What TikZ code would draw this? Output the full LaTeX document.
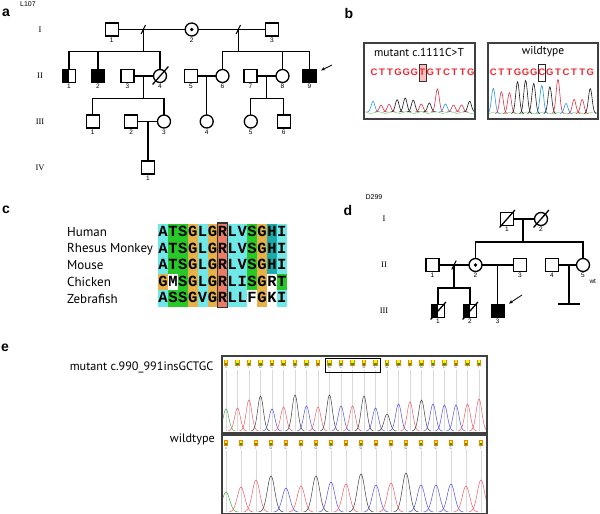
\documentclass[tikz,border=0pt]{standalone}
\usepackage{fontspec}
\setmainfont{Liberation Sans}
\newfontfamily\labelfont{PT Sans}
\newfontfamily\seqfont{Liberation Mono}
\newfontfamily\romanfont{Liberation Serif}
\usetikzlibrary{positioning,
                arrows.meta,        % arrow tips
                calc}

\definecolor{alcyan}{RGB}{112,232,232}
\definecolor{algreen}{RGB}{40,200,40}
\definecolor{alorange}{RGB}{232,176,72}
\definecolor{alsalmon}{RGB}{232,124,104}
\definecolor{alteal}{RGB}{30,170,170}
\definecolor{seqred}{RGB}{240,40,50}
\definecolor{bC}{RGB}{40,150,220}
\definecolor{bT}{RGB}{215,50,70}
\definecolor{bG}{RGB}{25,25,25}
\definecolor{eA}{RGB}{70,170,70}
\definecolor{eT}{RGB}{240,90,100}
\definecolor{eG}{RGB}{60,60,60}
\definecolor{eC}{RGB}{80,80,230}

% one trace peak: x, baseline, height, width, colour
\newcommand{\trpeak}[5]{%
  \draw[#5] plot[domain=-2.4:2.4, samples=25, smooth] ({#1+#4*\x},{#2-#3*exp(-(\x)*(\x))});}

\begin{document}
\begin{tikzpicture}[x=1pt, y=-1pt,
    ped/.style={line width=1.3pt, line cap=rect},
    male/.style={draw, rectangle, minimum size=13pt, inner sep=0pt, line width=1.3pt},
    female/.style={draw, circle, minimum size=13pt, inner sep=0pt, line width=1.3pt},
    halfaff/.style={path picture={\fill[black] (path picture bounding box.north west) rectangle (path picture bounding box.south);}},
    num/.style={font=\fontsize{6.5}{7}\selectfont, inner sep=0.8pt},
    gen/.style={font=\romanfont\fontsize{8.5}{9}\selectfont},
    panel/.style={font=\bfseries\fontsize{14}{14}\selectfont},
    idtag/.style={font=\fontsize{7}{7}\selectfont},
    brk/.style={line width=1pt},
    proband/.style={line width=0.8pt, -{Stealth[length=4pt, width=3.5pt]}, shorten >=5pt},
    species/.style={font=\labelfont\fontsize{13}{13}\selectfont, inner sep=0pt},
    tracelbl/.style={font=\labelfont\fontsize{12.2}{12.2}\selectfont, inner sep=0pt},
    alnchar/.style={font=\seqfont\bfseries\fontsize{15.5}{15.5}\selectfont, inner sep=0pt, text height=8.8pt, text depth=0pt},
    seqchar/.style={font=\bfseries\fontsize{9.5}{9.5}\selectfont, text=seqred, inner sep=0pt},
    basechar/.style={font=\fontsize{3.5}{3.5}\selectfont, inner sep=0pt},
    chromframe/.style={draw=black!75, line width=1.3pt}]
\useasboundingbox (0,0) rectangle (600,514);

% ---------------- a
\node[panel] (lblA) at (6,13) {a};
\node[idtag] (tagA) at (28,4) {L107};
\foreach \g/\y in {I/29.5, II/76, III/121.5, IV/167.5}
  \node[gen] (genA\g) at (40,\y) {\g};

\node[male, label={[num]below:1}] (aI1) at (111.7,29.5) {};
\node[female, label={[num]below:2}] (aI2) at (191.7,29.5) {};
\node[male, label={[num]below:3}] (aI3) at (272,29.5) {};

\node[male, halfaff, label={[num]below:1}] (aII1) at (69,76) {};
\node[male, fill=black, label={[num]below:2}] (aII2) at (98,76) {};
\node[male, label={[num]below:3}] (aII3) at (127.5,76) {};
\node[female, label={[num]below:4}] (aII4) at (160,76) {};
\node[male, label={[num]below:5}] (aII5) at (191,76) {};
\node[female, label={[num]below:6}] (aII6) at (222.5,76) {};
\node[male, label={[num]below:7}] (aII7) at (250.5,76) {};
\node[female, label={[num]below:8}] (aII8) at (282.5,76) {};
\node[male, fill=black, label={[num]below:9}] (aII9) at (309.5,76) {};

\node[male, label={[num]below:1}] (aIII1) at (92.7,121.5) {};
\node[male, label={[num]below:2}] (aIII2) at (131.3,121.5) {};
\node[female, label={[num]below:3}] (aIII3) at (164,121.5) {};
\node[female, label={[num]below:4}] (aIII4) at (206.7,121.5) {};
\node[female, label={[num]below:5}] (aIII5) at (250.8,121.5) {};
\node[male, label={[num]below:6}] (aIII6) at (283.7,121.5) {};

\node[male, label={[num]below:1}] (aIV1) at (148,167.5) {};

\fill (aI2) circle (1.8);
\draw[ped] ($(aII4)+(-7,8)$) -- ($(aII4)+(8,-9)$);

\coordinate (dropA1) at (143.3,51.7);
\coordinate (dropA2) at (238.3,51.7);
\coordinate (dropA3) at (143.3,98.3);
\coordinate (dropA4) at (266.6,98.3);

\draw[ped] (aI1) -- (aI2) -- (aI3);
\draw[ped] (dropA1 |- aI1) -- (dropA1);
\draw[ped] (dropA2 |- aI1) -- (dropA2);
\draw[brk] (dropA1 |- aI1) ++(-2.2,4.5) -- ++(4.4,-9);
\draw[brk] (dropA2 |- aI1) ++(-2.2,4.5) -- ++(4.4,-9);
\draw[ped] (aII1) |- (dropA1) -| (aII4);
\draw[ped] (aII2) -- (aII2 |- dropA1);
\draw[ped] (aII6) |- (dropA2) -| (aII9);
\draw[ped] (aII8) -- (aII8 |- dropA2);

\draw[ped] (aII3) -- (aII4);
\draw[ped] (dropA3 |- aII3) -- (dropA3);
\draw[ped] (aIII1) |- (dropA3) -| (aIII3);
\draw[ped] (aII5) -- (aII6);
\draw[ped] (aIII4 |- aII5) -- (aIII4);
\draw[ped] (aII7) -- (aII8);
\draw[ped] (dropA4 |- aII7) -- (dropA4);
\draw[ped] (aIII5) |- (dropA4) -| (aIII6);

\draw[ped] (aIII2) -- (aIII3);
\draw[ped] (aIV1 |- aIII2) -- (aIV1);

\coordinate (prbA) at (332,65);
\draw[proband] (prbA) -- (aII9);

% ---------------- b
\node[panel] (lblB) at (349,13) {b};
\draw[chromframe] (364,43) rectangle (475,119);
\draw[chromframe] (488,43) rectangle (598,119);
\node[font=\labelfont\fontsize{11.5}{11.5}\selectfont] (mutB) at (419,52) {mutant c.1111C>T};
\node[font=\labelfont\fontsize{11.5}{11.5}\selectfont] (wtB) at (543,52) {wildtype};

\draw[fill=red!25, draw=black!80, line width=0.8pt] (419,64) rectangle (426,81);
\draw[draw=black!85, line width=0.8pt] (538.3,64) rectangle (545.3,81);
\foreach \l [count=\i from 0] in {C,T,T,G,G,G,T,G,T,C,T,T,G}
  \node[seqchar] (mseq\i) at ({374+8.06*\i},72.5) {\l};
\foreach \l [count=\i from 0] in {C,T,T,G,G,G,C,G,T,C,T,T,G}
  \node[seqchar] (wseq\i) at ({493.3+8.08*\i},72.5) {\l};

\begin{scope}
  \clip (365,44) rectangle (474,118);
  \draw[green!65!black!60, line width=0.4pt] plot[domain=365:474, samples=60, smooth] (\x,{112.5-0.9*sin(\x*25)});
  \foreach \b/\h [count=\i from 0] in {C/10.7,T/6.7,T/7.7,G/12.3,G/14,G/12,T/8,G/9,T/23,C/8,T/7,T/7,G/10.7}
  {
    \trpeak{373+8.05*\i}{112}{\h}{2.6}{b\b, line width=0.6pt}
  }
\end{scope}
\begin{scope}
  \clip (489,44) rectangle (597,118);
  \draw[green!65!black!60, line width=0.4pt] plot[domain=489:597, samples=60, smooth] (\x,{113-1*sin(\x*22)});
  \foreach \b/\h [count=\i from 0] in {C/25,T/21.7,T/20.7,G/31.7,G/33,G/30,C/28,G/26.7,T/34,C/10,T/14,T/14,G/25}
  {
    \trpeak{493.3+8.08*\i}{113.5}{\h}{2.6}{b\b, line width=0.6pt}
  }
\end{scope}

% ---------------- c
\node[panel] (lblC) at (6,210) {c};
\foreach \r/\name/\cells in {
  0/Human/{A/alcyan,T/algreen,S/algreen,G/alorange,L/alcyan,G/alorange,R/alsalmon,L/alcyan,V/alcyan,S/algreen,G/alorange,H/alteal,I/alcyan},
  1/Rhesus Monkey/{A/alcyan,T/algreen,S/algreen,G/alorange,L/alcyan,G/alorange,R/alsalmon,L/alcyan,V/alcyan,S/algreen,G/alorange,H/alteal,I/alcyan},
  2/Mouse/{A/alcyan,T/algreen,S/algreen,G/alorange,L/alcyan,G/alorange,R/alsalmon,L/alcyan,V/alcyan,S/algreen,G/alorange,H/alteal,I/alcyan},
  3/Chicken/{G/alorange,M/white,S/algreen,G/alorange,L/alcyan,G/alorange,R/alsalmon,L/alcyan,I/alcyan,S/algreen,G/alorange,R/white,T/algreen},
  4/Zebrafish/{A/alcyan,S/algreen,S/algreen,G/alorange,V/alcyan,G/alorange,R/alsalmon,L/alcyan,L/alcyan,F/white,G/alorange,K/white,I/alcyan}}
{
  \node[species, anchor=west] (sp\r) at (67,{232.5+16.5*\r}) {\name};
  \foreach \aa/\col [count=\i from 0] in \cells
  {
    \fill[\col] ({158+9.9*\i},{224+16.5*\r}) rectangle ++(10.1,16.7);
  }
  \foreach \aa/\col [count=\i from 0] in \cells
  {
    \node[alnchar] (aln\r x\i) at ({163+9.9*\i},{232.5+16.5*\r}) {\aa};
  }
}
\draw[black!80, line width=1.4pt] (217.4,223) rectangle (227.3,307.5);

% ---------------- d
\node[panel] (lblD) at (348,210) {d};
\node[idtag] (tagD) at (374,197) {D299};
\foreach \g/\y in {I/219, II/265, III/311}
  \node[gen] (genD\g) at (384,\y) {\g};

\node[male, label={[num]below:1}] (dI1) at (507,219) {};
\node[female, label={[num]below:2}] (dI2) at (541,219) {};

\node[male, label={[num]below:1}] (dII1) at (432.5,265) {};
\node[female, label={[num]below:2}] (dII2) at (475.5,265) {};
\node[male, label={[num]below:3}] (dII3) at (520,265) {};
\node[male, label={[num]below:4}] (dII4) at (552,265) {};
\node[female, label={[num]below:5}] (dII5) at (583,265) {};
\node[num, anchor=west] (dwt) at (588.5,281.5) {wt};

\node[male, halfaff, label={[num]below:1}] (dIII1) at (438,311) {};
\node[male, halfaff, label={[num]below:2}] (dIII2) at (470,311) {};
\node[male, fill=black, label={[num]below:3}] (dIII3) at (497.7,311) {};

\fill (dII2) circle (1.8);
\foreach \n in {dI1, dI2, dIII1, dIII2}
{
  \draw[ped] ($(\n)+(-7,8)$) -- ($(\n)+(7.5,-8.5)$);
}

\coordinate (dropD1) at (523,242);
\coordinate (dropD2) at (454,288);
\coordinate (noissue) at (569,304);

\draw[ped] (dI1) -- (dI2);
\draw[ped] (dropD1 |- dI1) -- (dropD1);
\draw[ped] (dII2) |- (dropD1) -| (dII5);
\draw[ped] (dII1) -- (dII2) -- (dII3);
\draw[ped] (dropD2 |- dII1) -- (dropD2);
\draw[brk] (dropD2 |- dII1) ++(-2.2,4.5) -- ++(4.4,-9);
\draw[ped] (dIII1) |- (dropD2) -| (dIII2);
\draw[ped] (dIII3 |- dII2) -- (dIII3);
\draw[ped] (dII4) -- (dII5);
\draw[ped] (noissue |- dII4) -- (noissue);
\draw[ped] ($(noissue)+(-10,0)$) -- ($(noissue)+(10,0)$);

\coordinate (prbD) at (522,295);
\draw[proband] (prbD) -- (dIII3);

% ---------------- e
\node[panel] (lblE) at (5,348) {e};
\node[tracelbl, anchor=east] (mutE) at (213.5,367) {mutant c.990\_991insGCTGC};
\node[tracelbl, anchor=east] (wtE) at (215,439) {wildtype};

\begin{scope}
  \clip (223,357) rectangle (487,432);
  \foreach \b/\h [count=\i from 0] in {A/22,T/23,T/31,G/35,C/22,T/24,G/36,C/25,T/24,G/36,C/25,T/25,G/35,C/23,G/17,C/27,T/29,G/31,C/27,C/26,C/26,T/27,T/32}
  {
    \draw[gray!30, line width=0.3pt] ({226+11.5*\i},369.5) -- ({226+11.5*\i},431);
    \trpeak{226+11.5*\i}{431}{\h}{4}{e\b, line width=0.5pt}
    \fill[orange] ({226+11.5*\i-2.2},359.5) rectangle ++(4.4,6);
    \fill[yellow] ({226+11.5*\i-1.3},360.3) rectangle ++(2.6,2.5);
    \fill[green!70!black] ({226+11.5*\i-1.3},362.8) rectangle ++(2.6,1.9);
    \node[basechar, text=e\b] (mb\i) at ({226+11.5*\i},367.5) {\b};
  }
\end{scope}
\draw[black, line width=1pt] (325.7,358) rectangle (380.7,372);
\draw[chromframe] (222,356) rectangle (487,433);

\begin{scope}
  \clip (223,436) rectangle (487,513);
  \foreach \b/\h [count=\i from 0] in {A/20,T/25,T/32,G/36,C/24,T/26,G/36,C/30,T/28,G/38,C/27,T/29,G/39,C/27,C/27,C/28,T/26,T/32}
  {
    \draw[gray!30, line width=0.3pt] ({226+15*\i},450) -- ({226+15*\i},512);
    \trpeak{226+15*\i}{512}{\h}{5.2}{e\b, line width=0.5pt}
    \fill[orange] ({226+15*\i-2.2},440) rectangle ++(4.4,6);
    \fill[yellow] ({226+15*\i-1.3},440.8) rectangle ++(2.6,2.5);
    \fill[green!70!black] ({226+15*\i-1.3},443.3) rectangle ++(2.6,1.9);
    \node[basechar, text=e\b] (wb\i) at ({226+15*\i},448) {\b};
  }
\end{scope}
\draw[chromframe] (222,435) rectangle (487,513.3);

\end{tikzpicture}
\end{document}
